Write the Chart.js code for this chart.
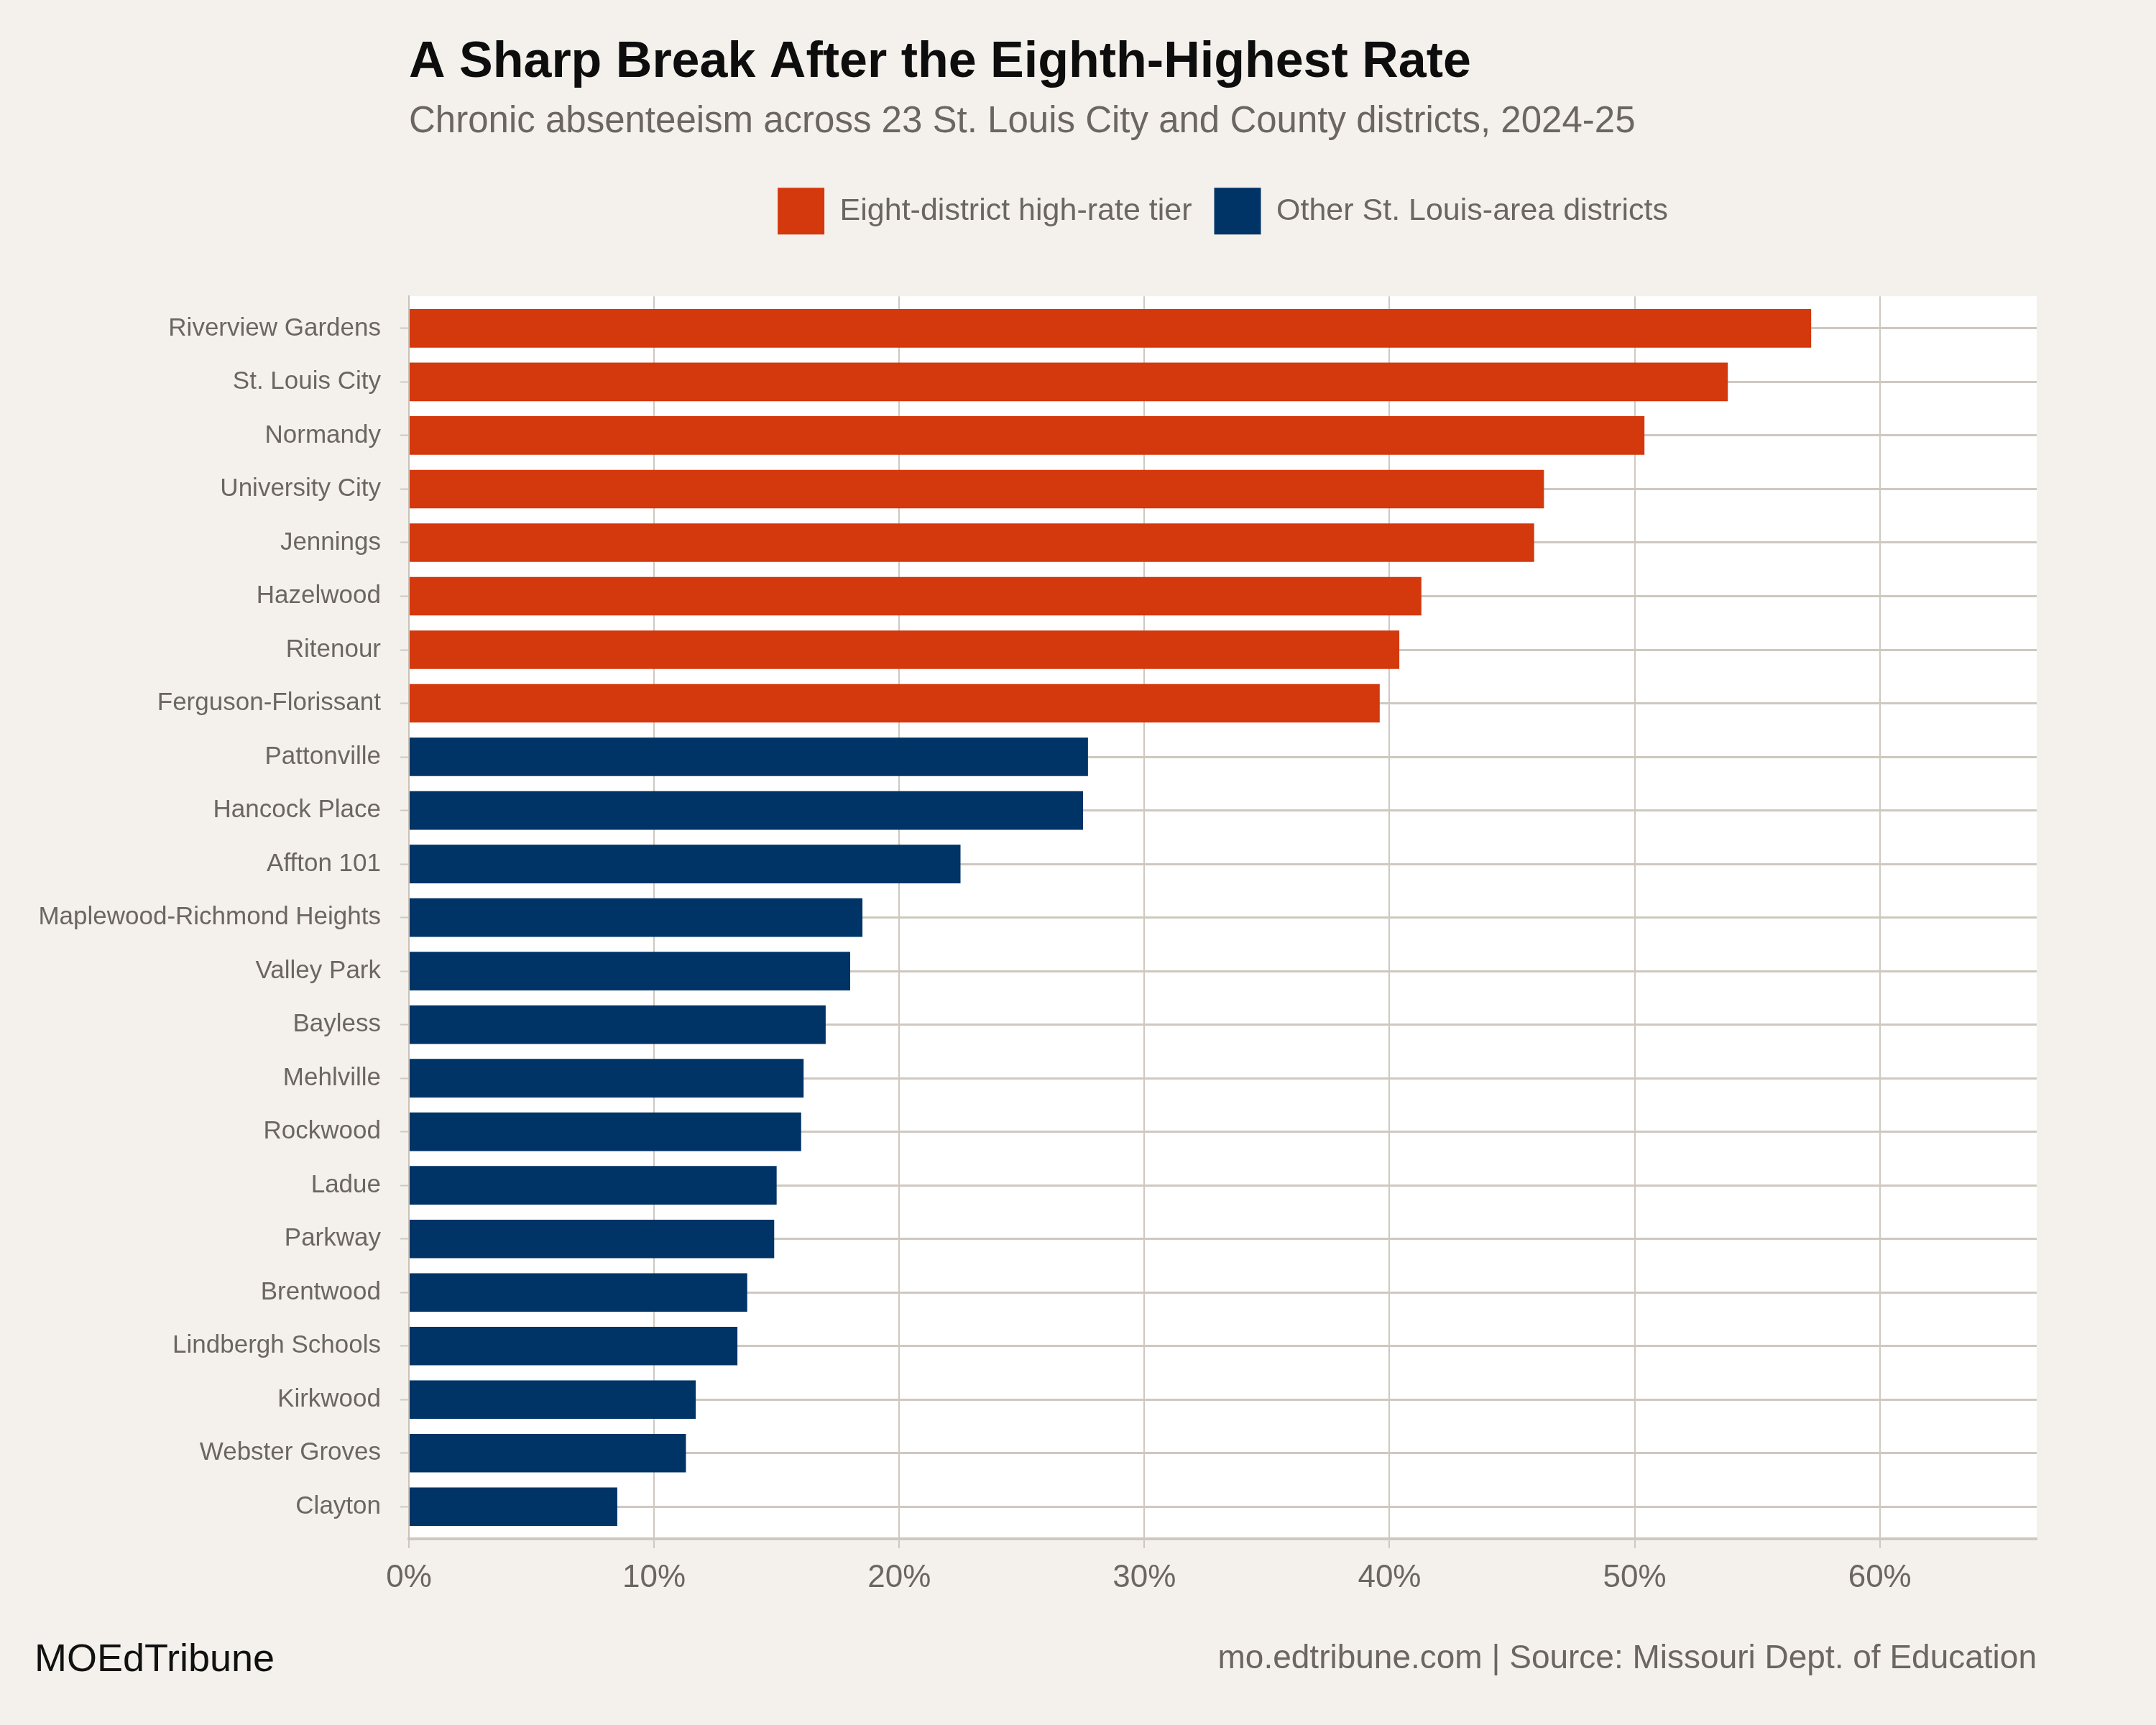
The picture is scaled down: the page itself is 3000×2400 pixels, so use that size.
<!DOCTYPE html>
<html>
<head>
<meta charset="utf-8">
<script src="https://cdn.jsdelivr.net/npm/chart.js@4.4.1/dist/chart.umd.min.js"></script>
<style>
  html, body { margin: 0; padding: 0; background: #f4f1ec; }
  #wrap { width: 3000px; height: 2400px; }
</style>
</head>
<body>
<div id="wrap"><canvas id="absChart" width="3000" height="2400"></canvas></div>
<script>
// Data
const districts = [
    'Riverview Gardens', 'St. Louis City', 'Normandy', 'University City', 'Jennings',
    'Hazelwood', 'Ritenour', 'Ferguson-Florissant', 'Pattonville', 'Hancock Place',
    'Affton 101', 'Maplewood-Richmond Heights', 'Valley Park', 'Bayless', 'Mehlville',
    'Rockwood', 'Ladue', 'Parkway', 'Brentwood', 'Lindbergh Schools', 'Kirkwood',
    'Webster Groves', 'Clayton'
];
const rates = [
    57.2, 53.8, 50.4, 46.3, 45.9, 41.3, 40.4, 39.6, 27.7, 27.5, 22.5, 18.5,
    18.0, 17.0, 16.1, 16.0, 15.0, 14.9, 13.8, 13.4, 11.7, 11.3, 8.5
];
const highTierCount = 8;
const seriesNames = ['Eight-district high-rate tier', 'Other St. Louis-area districts'];
const xTicks = [0, 10, 20, 30, 40, 50, 60];

const RED = '#d4380d';
const BLUE = '#003366';
const GRID = '#cec8bf';
const GRAY_TEXT = '#6b6661';
const BG = '#f4f1ec';

Chart.defaults.font.family = "'Liberation Sans', Arial, sans-serif";
Chart.defaults.color = GRAY_TEXT;

const toPoints = (from, to) => rates.slice(from, to).map((v, i) => ({ x: v, y: from + i }));

// background + white plot panel
const panelPlugin = {
    id: 'panel',
    beforeDraw(chart) {
        const { ctx, chartArea: a } = chart;
        ctx.save();
        ctx.fillStyle = BG;
        ctx.fillRect(0, 0, chart.width, chart.height);
        ctx.fillStyle = '#ffffff';
        ctx.fillRect(a.left, a.top, a.right - a.left, a.bottom - a.top);
        ctx.restore();
    }
};

// footer texts
const footerPlugin = {
    id: 'footer',
    afterDraw(chart) {
        const { ctx, chartArea: a } = chart;
        ctx.save();
        ctx.textBaseline = 'alphabetic';
        ctx.font = "54px 'Liberation Sans', Arial, sans-serif";
        ctx.fillStyle = '#111111';
        ctx.textAlign = 'left';
        ctx.fillText('MOEdTribune', 48, 2325);
        ctx.font = "46px 'Liberation Sans', Arial, sans-serif";
        ctx.fillStyle = GRAY_TEXT;
        ctx.textAlign = 'right';
        ctx.fillText('mo.edtribune.com | Source: Missouri Dept. of Education', a.right, 2321);
        ctx.restore();
    }
};

const chart = new Chart(document.getElementById('absChart'), {
    type: 'bar',
    data: {
        datasets: [
            {
                label: seriesNames[0],
                data: toPoints(0, highTierCount),
                backgroundColor: RED,
                xAxisID: 'x',
                yAxisID: 'y'
            },
            {
                label: seriesNames[1],
                data: toPoints(highTierCount, rates.length),
                backgroundColor: BLUE,
                xAxisID: 'x',
                yAxisID: 'y'
            }
        ]
    },
    options: {
        indexAxis: 'y',
        responsive: false,
        devicePixelRatio: 1,
        animation: false,
        layout: { padding: { top: 0, left: 48, right: 166, bottom: 163 } },
        datasets: {
            bar: { grouped: false, categoryPercentage: 1, barPercentage: 0.72, borderWidth: 0 }
        },
        plugins: {
            title: {
                display: true,
                text: 'A Sharp Break After the Eighth-Highest Rate',
                align: 'start',
                fullSize: false,
                color: '#0d0d0d',
                font: { size: 70, weight: 'bold' },
                padding: { top: 46, bottom: 0 }
            },
            subtitle: {
                display: true,
                text: 'Chronic absenteeism across 23 St. Louis City and County districts, 2024-25',
                align: 'start',
                fullSize: false,
                color: GRAY_TEXT,
                font: { size: 51 },
                padding: { top: 9, bottom: 30 }
            },
            legend: {
                position: 'top',
                fullSize: false,
                labels: {
                    boxWidth: 65,
                    boxHeight: 65,
                    padding: 31,
                    color: GRAY_TEXT,
                    font: { size: 43 }
                }
            },
            tooltip: { enabled: false }
        },
        scales: {
            x: {
                type: 'linear',
                position: 'bottom',
                offset: false,
                min: 0,
                max: 66.4,
                afterBuildTicks: (axis) => { axis.ticks = xTicks.map(v => ({ value: v })); },
                ticks: {
                    callback: (v) => v + '%',
                    font: { size: 44 },
                    color: GRAY_TEXT,
                    padding: 15,
                    maxRotation: 0
                },
                grid: { offset: false, color: GRID, lineWidth: 2, tickLength: 13, tickWidth: 2 },
                border: { display: true, color: GRID, width: 4 },
                afterFit: (s) => { s.height = 96; }
            },
            // empty band between the legend and the plot panel
            spacer: {
                type: 'linear',
                position: 'top',
                display: true,
                grid: { display: false, drawTicks: false },
                border: { display: false },
                ticks: { display: false },
                afterFit: (s) => { s.height = 76; }
            },
            y: {
                type: 'linear',
                reverse: true,
                offset: false,
                min: -0.6,
                max: districts.length - 0.4,
                afterBuildTicks: (axis) => { axis.ticks = districts.map((d, i) => ({ value: i })); },
                ticks: {
                    callback: (v) => districts[v],
                    font: { size: 35 },
                    color: GRAY_TEXT,
                    padding: 27,
                    autoSkip: false
                },
                grid: { offset: false, color: GRID, lineWidth: 3, tickLength: 12, tickWidth: 2 },
                border: { display: true, color: '#c9c2b8', width: 2 },
                afterFit: (s) => { s.width = 521; }
            }
        }
    },
    plugins: [panelPlugin, footerPlugin]
});
</script>
</body>
</html>
